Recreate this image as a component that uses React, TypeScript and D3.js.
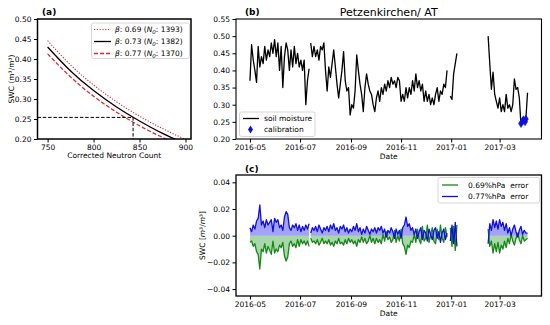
import React, { useEffect, useRef } from 'react';
import * as d3 from 'd3';

// panel (a): calibration curves
const neutronCounts = [750, 775, 800, 825, 850, 875, 900];
const swcBeta069 = [0.446, 0.385, 0.335, 0.293, 0.257, 0.226, 0.199];
const swcBeta073 = [0.43, 0.37, 0.321, 0.28, 0.245, 0.214, 0.188];
const swcBeta077 = [0.413, 0.355, 0.307, 0.267, 0.233, 0.204, 0.178];
const betaLabels = ['0.69', '0.73', '0.77'];
const n0Labels = ['1393', '1382', '1370'];
const calibCount = 843;
const calibSwc = 0.254;
const countTicks = [750, 800, 850, 900];
const swcTicksA = [0.2, 0.25, 0.3, 0.35, 0.4, 0.45, 0.5];

// panels (b) and (c): daily series sampled every 2 days, in 4 segments
const segStarts = ['2016-05-01', '2016-07-14', '2016-12-31', '2017-02-15'];
const stepDays = 2;

const smSeg1 = [0.37, 0.475, 0.43, 0.4, 0.365, 0.47, 0.41, 0.44, 0.42, 0.47, 0.43, 0.46, 0.44, 0.48, 0.45, 0.49, 0.44, 0.48, 0.4, 0.47, 0.35, 0.44, 0.48, 0.46, 0.4, 0.46, 0.41, 0.47, 0.42, 0.45, 0.41, 0.43, 0.4, 0.43, 0.3, 0.37, 0.405];
const smSeg2 = [0.48, 0.44, 0.47, 0.44, 0.46, 0.43, 0.47, 0.46, 0.48, 0.4, 0.34, 0.41, 0.38, 0.42, 0.46, 0.41, 0.36, 0.32, 0.36, 0.4, 0.455, 0.37, 0.34, 0.35, 0.27, 0.3, 0.29, 0.34, 0.445, 0.4, 0.36, 0.33, 0.28, 0.35, 0.39, 0.36, 0.34, 0.33, 0.3, 0.28, 0.32, 0.34, 0.31, 0.35, 0.33, 0.36, 0.34, 0.37, 0.35, 0.38, 0.36, 0.37, 0.35, 0.38, 0.37, 0.31, 0.33, 0.31, 0.35, 0.32, 0.35, 0.33, 0.37, 0.34, 0.39, 0.35, 0.37, 0.34, 0.36, 0.31, 0.34, 0.31, 0.33, 0.3, 0.32, 0.3, 0.33, 0.35, 0.31, 0.34, 0.33, 0.36, 0.35, 0.4];
const smSeg3 = [0.325, 0.315, 0.39, 0.42, 0.45];
const smSeg4 = [0.5, 0.42, 0.345, 0.395, 0.33, 0.31, 0.29, 0.32, 0.28, 0.3, 0.28, 0.33, 0.29, 0.3, 0.28, 0.3, 0.375, 0.345, 0.35, 0.32, 0.24, 0.26, 0.25, 0.26, 0.335];

const err069Seg1 = [-0.005, -0.004, -0.008, -0.006, -0.012, -0.014, -0.025, -0.01, -0.012, -0.006, -0.013, -0.008, -0.011, -0.014, -0.004, -0.013, -0.01, -0.012, -0.007, -0.009, -0.005, -0.015, -0.019, -0.016, -0.006, -0.004, -0.008, -0.006, -0.009, -0.003, -0.008, -0.003, -0.006, -0.004, -0.007, -0.004, -0.008];
const err069Seg2 = [-0.002, -0.005, -0.004, -0.006, -0.003, -0.007, -0.005, -0.002, -0.006, -0.004, -0.006, -0.003, -0.007, -0.005, -0.008, -0.004, -0.006, -0.002, -0.006, -0.005, -0.007, -0.003, -0.006, -0.002, -0.005, -0.003, -0.006, -0.004, -0.008, -0.003, -0.005, -0.001, -0.005, -0.002, -0.006, -0.004, 0.0, -0.005, -0.002, -0.006, -0.002, -0.005, -0.003, -0.006, 0.001, -0.004, 0.003, -0.003, -0.001, -0.005, -0.003, 0.004, -0.005, 0.0, -0.004, 0.005, -0.006, -0.008, -0.014, -0.007, -0.009, -0.004, -0.005, 0.001, -0.005, 0.005, -0.003, -0.006, 0.007, -0.004, -0.002, 0.008, -0.005, 0.0, 0.006, -0.004, -0.006, 0.005, -0.003, 0.008, -0.002, -0.005, 0.006, -0.001];
const err069Seg3 = [0.006, -0.008, 0.007, -0.011, 0.008];
const err069Seg4 = [0.005, -0.008, -0.004, -0.013, -0.006, -0.012, -0.005, -0.013, -0.007, -0.01, -0.004, -0.009, -0.002, -0.006, 0.001, -0.004, -0.007, -0.002, 0.002, -0.003, -0.006, 0.0, -0.004, -0.003, -0.002];

const err077Seg1 = [0.006, 0.003, 0.008, 0.005, 0.011, 0.013, 0.023, 0.008, 0.011, 0.006, 0.012, 0.008, 0.01, 0.012, 0.003, 0.013, 0.01, 0.012, 0.006, 0.008, 0.004, 0.014, 0.018, 0.016, 0.006, 0.004, 0.008, 0.006, 0.009, 0.004, 0.008, 0.003, 0.007, 0.004, 0.008, 0.005, 0.009];
const err077Seg2 = [0.002, 0.006, 0.004, 0.007, 0.003, 0.008, 0.005, 0.002, 0.006, 0.004, 0.007, 0.003, 0.008, 0.005, 0.009, 0.004, 0.006, 0.002, 0.007, 0.005, 0.008, 0.003, 0.006, 0.002, 0.005, 0.003, 0.007, 0.004, 0.009, 0.003, 0.006, 0.001, 0.005, 0.002, 0.007, 0.004, 0.001, 0.005, 0.003, 0.006, 0.002, 0.006, 0.004, 0.007, 0.002, 0.005, -0.001, 0.004, 0.002, 0.006, 0.003, -0.002, 0.005, 0.001, 0.004, -0.002, 0.006, 0.008, 0.014, 0.007, 0.009, 0.004, 0.006, 0.001, 0.005, -0.002, 0.003, 0.006, -0.003, 0.004, 0.002, -0.004, 0.005, 0.001, -0.003, 0.004, 0.006, -0.002, 0.003, -0.005, 0.002, 0.005, -0.003, 0.002];
const err077Seg3 = [-0.004, 0.008, -0.006, 0.01, -0.008];
const err077Seg4 = [-0.006, 0.009, 0.004, 0.012, 0.006, 0.011, 0.005, 0.012, 0.007, 0.01, 0.004, 0.009, 0.002, 0.006, 0.0, 0.005, 0.008, 0.003, -0.001, 0.004, 0.007, 0.001, 0.004, 0.002, 0.002];

const calibDates = ['2017-03-27', '2017-03-29', '2017-03-30', '2017-04-01', '2017-04-02'];
const calibValues = [0.245, 0.252, 0.256, 0.25, 0.258];

const dateTicks = ['2016-05-01', '2016-07-01', '2016-09-01', '2016-11-01', '2017-01-01', '2017-03-01'];
const swcTicksB = [0.2, 0.25, 0.3, 0.35, 0.4, 0.45, 0.5, 0.55];
const errTicks = [-0.04, -0.02, 0, 0.02, 0.04];

const FONT = 'DejaVu Sans';
const RED = '#e8282b';
const BLUE = '#1010d8';
const GREEN = '#138a13';

export default function App() {
  const svgRef = useRef<SVGSVGElement>(null);

  useEffect(() => {
    if (!svgRef.current) return;
    drawChart();
  }, []);

  const drawChart = () => {
    const svg = d3.select(svgRef.current);
    svg.selectAll('*').remove();
    svg.attr('width', 550).attr('height', 325).style('font-family', FONT);

    const parse = d3.timeParse('%Y-%m-%d');
    const toSeries = (segs: number[][]) =>
      segs.map((vals, s) =>
        vals.map((v, i) => ({ date: d3.timeDay.offset(parse(segStarts[s]) as Date, i * stepDays), value: v }))
      );

    const styleAxis = (g: any, lw = 1) => {
      g.selectAll('.domain').remove();
      g.selectAll('line').attr('stroke', '#000').attr('stroke-width', lw);
      g.selectAll('text').style('font-size', '7.5px').style('font-family', FONT).attr('fill', '#000');
    };

    const frame = (l: number, t: number, r: number, b: number, lw: number) => {
      svg.append('rect')
        .attr('x', l).attr('y', t).attr('width', r - l).attr('height', b - t)
        .attr('fill', 'none').attr('stroke', '#000').attr('stroke-width', lw);
    };

    const clip = (id: string, l: number, t: number, r: number, b: number) => {
      svg.append('clipPath').attr('id', id)
        .append('rect').attr('x', l).attr('y', t).attr('width', r - l).attr('height', b - t);
    };

    // ---------------- panel (a) ----------------
    const A = { l: 37.5, r: 191, t: 19, b: 139 };
    const xa = d3.scaleLinear().domain([739, 906]).range([A.l, A.r]);
    const ya = d3.scaleLinear().domain([0.2, 0.5]).range([A.b, A.t]);
    clip('clipA', A.l, A.t, A.r, A.b);

    const lineA = d3.line<number>()
      .x((_, i) => xa(neutronCounts[i]))
      .y((d) => ya(d))
      .curve(d3.curveNatural);

    const ga = svg.append('g').attr('clip-path', 'url(#clipA)');
    const curves = [
      { vals: swcBeta069, color: RED, dash: '1.2,1.6', w: 1.1 },
      { vals: swcBeta073, color: '#000', dash: null, w: 1.3 },
      { vals: swcBeta077, color: RED, dash: '4,2', w: 1.3 },
    ];
    curves.forEach((c) => {
      ga.append('path').datum(c.vals)
        .attr('fill', 'none').attr('stroke', c.color).attr('stroke-width', c.w)
        .attr('stroke-dasharray', c.dash).attr('d', lineA);
    });
    // reference lines
    ga.append('path')
      .attr('d', `M${A.l},${ya(calibSwc)}H${xa(calibCount)}V${A.b}`)
      .attr('fill', 'none').attr('stroke', '#000').attr('stroke-width', 1).attr('stroke-dasharray', '3.5,1.8');

    svg.append('g').attr('transform', `translate(0,${A.b})`)
      .call(d3.axisBottom(xa).tickValues(countTicks).tickSize(3.5).tickPadding(2.5).tickSizeOuter(0))
      .call(styleAxis);
    svg.append('g').attr('transform', `translate(${A.l},0)`)
      .call(d3.axisLeft(ya).tickValues(swcTicksA).tickFormat(d3.format('.2f')).tickSize(3.5).tickPadding(2.5).tickSizeOuter(0))
      .call(styleAxis);
    frame(A.l, A.t, A.r, A.b, 1.5);

    // legend (a)
    const la = svg.append('g');
    la.append('rect').attr('x', 91.5).attr('y', 23).attr('width', 98).attr('height', 35.5).attr('rx', 2)
      .attr('fill', '#fff').attr('fill-opacity', 0.85).attr('stroke', '#ccc').attr('stroke-width', 0.8);
    curves.forEach((c, i) => {
      const yy = 29.5 + i * 12;
      la.append('line').attr('x1', 94).attr('x2', 111).attr('y1', yy).attr('y2', yy)
        .attr('stroke', c.color).attr('stroke-width', c.w).attr('stroke-dasharray', c.dash);
      const t = la.append('text').attr('x', 115).attr('y', yy + 2.7).style('font-size', '7.5px');
      t.append('tspan').style('font-style', 'italic').text('β');
      t.append('tspan').text(`: ${betaLabels[i]} (`);
      t.append('tspan').style('font-style', 'italic').text('N');
      t.append('tspan').attr('dy', 1.8).style('font-size', '5.5px').style('font-style', 'italic').text('0');
      t.append('tspan').attr('dy', -1.8).text(`: ${n0Labels[i]})`);
    });

    svg.append('text').attr('x', (A.l + A.r) / 2).attr('y', 158).attr('text-anchor', 'middle')
      .style('font-size', '7.5px').text('Corrected Neutron Count');
    const yla = svg.append('text').attr('transform', `translate(13.5,${(A.t + A.b) / 2}) rotate(-90)`)
      .attr('text-anchor', 'middle').style('font-size', '7.5px');
    yla.text('SWC (m³/m³)');
    svg.append('text').attr('x', 42).attr('y', 15).style('font-size', '9px').style('font-weight', 'bold').text('(a)');

    // ---------------- panel (b) ----------------
    const B = { l: 236, r: 541.5, t: 19, b: 139 };
    const xDomain = [parse('2016-04-14') as Date, parse('2017-04-21') as Date];
    const xb = d3.scaleTime().domain(xDomain).range([B.l, B.r]);
    const yb = d3.scaleLinear().domain([0.2, 0.55]).range([B.b, B.t]);
    clip('clipB', B.l, B.t, B.r, B.b);
    const tickDates = dateTicks.map((d) => parse(d) as Date);
    const fmt = d3.timeFormat('%Y-%m');

    const smSeries = toSeries([smSeg1, smSeg2, smSeg3, smSeg4]);
    const lineB = d3.line<any>().x((d) => xb(d.date)).y((d) => yb(d.value));
    const gb = svg.append('g').attr('clip-path', 'url(#clipB)');
    smSeries.forEach((seg) => {
      gb.append('path').datum(seg).attr('fill', 'none').attr('stroke', '#000')
        .attr('stroke-width', 1.3).attr('stroke-linejoin', 'round').attr('d', lineB);
    });
    const diamond = 'M0,-4L2.5,0L0,4L-2.5,0Z';
    calibDates.forEach((d, i) => {
      gb.append('path').attr('d', diamond)
        .attr('transform', `translate(${xb(parse(d) as Date)},${yb(calibValues[i])})`)
        .attr('fill', BLUE).attr('stroke', BLUE).attr('stroke-width', 0.5);
    });

    svg.append('g').attr('transform', `translate(0,${B.b})`)
      .call(d3.axisBottom(xb).tickValues(tickDates).tickFormat(fmt as any).tickSize(3.5).tickPadding(2.5).tickSizeOuter(0))
      .call(styleAxis);
    svg.append('g').attr('transform', `translate(${B.l},0)`)
      .call(d3.axisLeft(yb).tickValues(swcTicksB).tickFormat(d3.format('.2f')).tickSize(3.5).tickPadding(2.5).tickSizeOuter(0))
      .call(styleAxis);
    frame(B.l, B.t, B.r, B.b, 1.1);

    // legend (b)
    const lb = svg.append('g');
    lb.append('rect').attr('x', 239.5).attr('y', 112).attr('width', 75.5).attr('height', 24.5).attr('rx', 2)
      .attr('fill', '#fff').attr('fill-opacity', 0.85).attr('stroke', '#ccc').attr('stroke-width', 0.8);
    lb.append('line').attr('x1', 243).attr('x2', 259).attr('y1', 118.5).attr('y2', 118.5)
      .attr('stroke', '#000').attr('stroke-width', 1.3);
    lb.append('text').attr('x', 264).attr('y', 121.2).style('font-size', '7.5px').text('soil moisture');
    lb.append('path').attr('d', diamond).attr('transform', 'translate(250.5,129.5)').attr('fill', BLUE);
    lb.append('text').attr('x', 264).attr('y', 132.2).style('font-size', '7.5px').text('calibration');

    svg.append('text').attr('x', (B.l + B.r) / 2).attr('y', 159).attr('text-anchor', 'middle')
      .style('font-size', '7.5px').text('Date');
    svg.append('text').attr('x', (B.l + B.r) / 2).attr('y', 16).attr('text-anchor', 'middle')
      .style('font-size', '11px').text('Petzenkirchen/ AT');
    svg.append('text').attr('x', 245).attr('y', 15).style('font-size', '9px').style('font-weight', 'bold').text('(b)');

    // ---------------- panel (c) ----------------
    const C = { l: 236, r: 541.5, t: 175, b: 296 };
    const xc = d3.scaleTime().domain(xDomain).range([C.l, C.r]);
    const yc = d3.scaleLinear().domain([-0.0452, 0.0455]).range([C.b, C.t]);
    clip('clipC', C.l, C.t, C.r, C.b);

    const greenSeries = toSeries([err069Seg1, err069Seg2, err069Seg3, err069Seg4]);
    const blueSeries = toSeries([err077Seg1, err077Seg2, err077Seg3, err077Seg4]);
    const areaC = d3.area<any>().x((d) => xc(d.date)).y0(yc(0)).y1((d) => yc(d.value));
    const lineC = d3.line<any>().x((d) => xc(d.date)).y((d) => yc(d.value));
    const gc = svg.append('g').attr('clip-path', 'url(#clipC)');
    greenSeries.forEach((seg) => {
      gc.append('path').datum(seg).attr('fill', '#008000').attr('fill-opacity', 0.33).attr('d', areaC);
    });
    blueSeries.forEach((seg) => {
      gc.append('path').datum(seg).attr('fill', '#0000ff').attr('fill-opacity', 0.36).attr('d', areaC);
    });
    greenSeries.forEach((seg) => {
      gc.append('path').datum(seg).attr('fill', 'none').attr('stroke', GREEN)
        .attr('stroke-width', 1.3).attr('stroke-linejoin', 'round').attr('d', lineC);
    });
    blueSeries.forEach((seg) => {
      gc.append('path').datum(seg).attr('fill', 'none').attr('stroke', BLUE)
        .attr('stroke-width', 1.3).attr('stroke-linejoin', 'round').attr('d', lineC);
    });

    svg.append('g').attr('transform', `translate(0,${C.b})`)
      .call(d3.axisBottom(xc).tickValues(tickDates).tickFormat(fmt as any).tickSize(3.5).tickPadding(2.5).tickSizeOuter(0))
      .call(styleAxis);
    svg.append('g').attr('transform', `translate(${C.l},0)`)
      .call(d3.axisLeft(yc).tickValues(errTicks).tickFormat(d3.format('.2f')).tickSize(3.5).tickPadding(2.5).tickSizeOuter(0))
      .call(styleAxis);
    frame(C.l, C.t, C.r, C.b, 1.3);

    // legend (c)
    const lc = svg.append('g');
    lc.append('rect').attr('x', 438).attr('y', 177.5).attr('width', 101.5).attr('height', 25.5).attr('rx', 2)
      .attr('fill', '#fff').attr('fill-opacity', 0.85).attr('stroke', '#ccc').attr('stroke-width', 0.8);
    [{ c: GREEN, t: '0.69%hPa  error' }, { c: BLUE, t: '0.77%hPa  error' }].forEach((e, i) => {
      const yy = 185 + i * 11.5;
      lc.append('line').attr('x1', 442).attr('x2', 458).attr('y1', yy).attr('y2', yy)
        .attr('stroke', e.c).attr('stroke-width', 1.3);
      lc.append('text').attr('x', 468).attr('y', yy + 2.7).style('font-size', '7.5px')
        .style('white-space', 'pre').attr('xml:space', 'preserve').text(e.t);
    });

    svg.append('text').attr('x', (C.l + C.r) / 2).attr('y', 316).attr('text-anchor', 'middle')
      .style('font-size', '7.5px').text('Date');
    const ylc = svg.append('text').attr('transform', `translate(205,${(C.t + C.b) / 2}) rotate(-90)`)
      .attr('text-anchor', 'middle').style('font-size', '7.5px');
    ylc.append('tspan').text('SWC [');
    ylc.append('tspan').style('font-style', 'italic').text('m');
    ylc.append('tspan').text('³/');
    ylc.append('tspan').style('font-style', 'italic').text('m');
    ylc.append('tspan').text('³]');
    svg.append('text').attr('x', 245).attr('y', 172).style('font-size', '9px').style('font-weight', 'bold').text('(c)');
  };

  return (
    <div style={{ position: 'absolute', left: 0, top: 0 }}>
      <svg ref={svgRef} style={{ display: 'block' }}></svg>
    </div>
  );
}
